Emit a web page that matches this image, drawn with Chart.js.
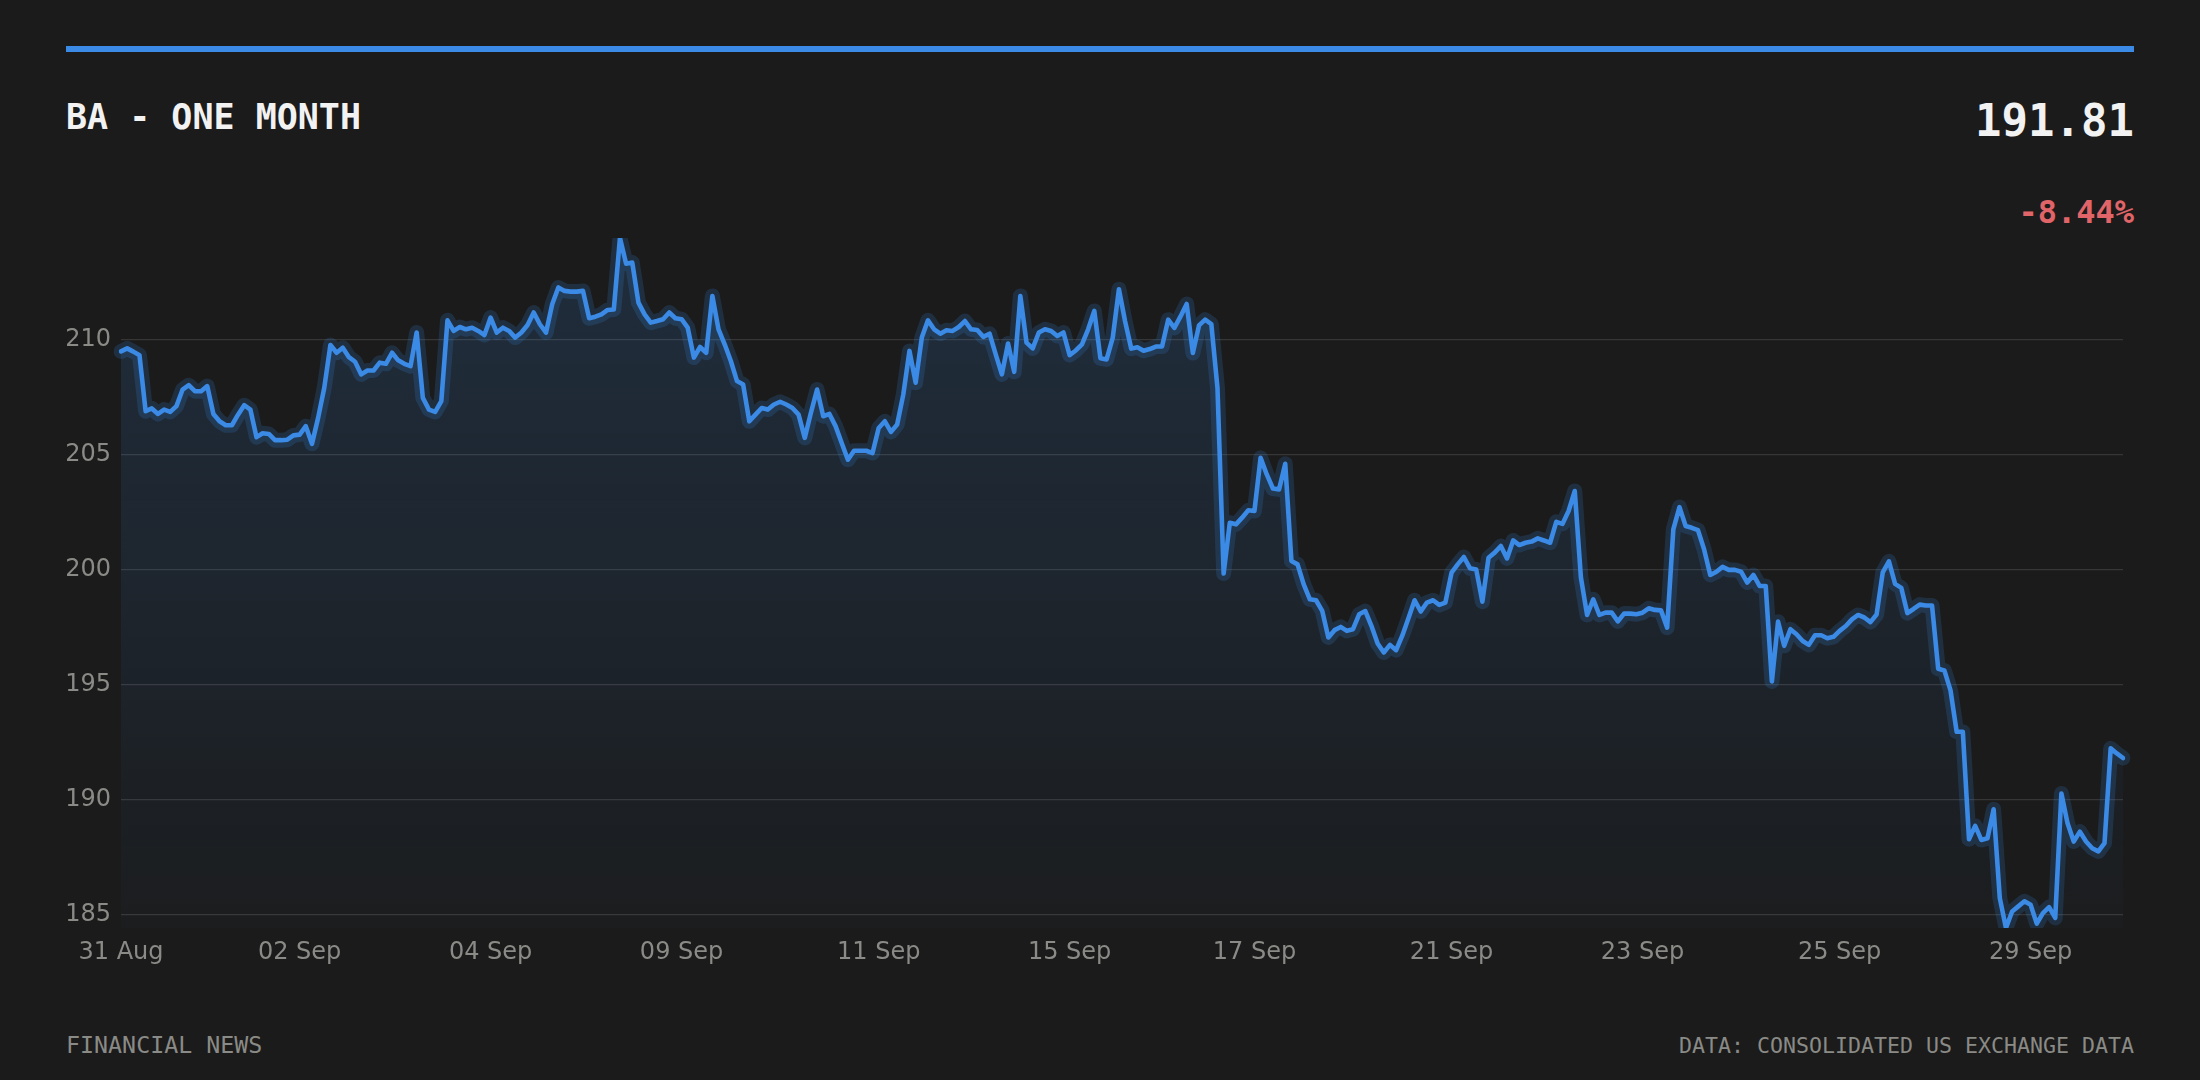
<!DOCTYPE html>
<html>
<head>
<meta charset="utf-8">
<script src="https://cdn.jsdelivr.net/npm/chart.js@4/dist/chart.umd.min.js"></script>
<style>
  html, body { margin: 0; padding: 0; background: #1b1b1b; width: 2200px; height: 1080px; overflow: hidden; }
  .bar { position: absolute; left: 66px; top: 46px; width: 2068px; height: 6px; background: #3a8ae6; }
  .mono { font-family: "DejaVu Sans Mono", monospace; position: absolute; white-space: nowrap; }
  #title { left: 66px; top: 100px; font-size: 35px; line-height: 35px; font-weight: bold; color: #f2f2f2; }
  #price { right: 66px; top: 99px; font-size: 44px; line-height: 44px; font-weight: bold; color: #f2f2f2; }
  #change { right: 66px; top: 196px; font-size: 32px; line-height: 32px; font-weight: bold; color: #e06468; }
  #srcLeft { left: 66px; top: 1033px; font-size: 23.3px; line-height: 23px; color: #8a8a86; }
  #srcRight { right: 66px; top: 1035px; font-size: 21.6px; line-height: 21px; color: #8a8a86; }
  #chartBox { position: absolute; left: 66px; top: 228px; width: 2068px; height: 772px; }
  #c { display: block; }
</style>
</head>
<body>
<div class="bar"></div>
<div class="mono" id="title"></div>
<div class="mono" id="price"></div>
<div class="mono" id="change"></div>
<div class="mono" id="srcLeft">FINANCIAL NEWS</div>
<div class="mono" id="srcRight">DATA: CONSOLIDATED US EXCHANGE DATA</div>
<div id="chartBox"><canvas id="c" width="2068" height="772"></canvas></div>
<script>
// ---- data ----
const chartTitle = 'BA - ONE MONTH';
const lastPrice = '191.81';
const changePct = '-8.44%';

// trading sessions and the index of the first point of each session
const sessionDays = ['31 Aug','01 Sep','02 Sep','03 Sep','04 Sep','08 Sep','09 Sep','10 Sep','11 Sep',
  '14 Sep','15 Sep','16 Sep','17 Sep','18 Sep','21 Sep','22 Sep','23 Sep','24 Sep','25 Sep',
  '28 Sep','29 Sep'];
const sessionStarts = [0,15,29,45,60,76,91,107,123,139,154,169,184,200,216,232,247,263,279,295,310];

const priceValues = [
  209.49,209.62,209.48,209.32,206.89,207.01,206.77,206.96,206.86,207.11,
  207.83,208.02,207.76,207.76,207.98,206.77,206.45,206.28,206.28,206.74,
  207.15,206.96,205.76,205.93,205.90,205.63,205.63,205.65,205.84,205.87,
  206.24,205.47,206.60,207.91,209.77,209.43,209.65,209.24,209.04,208.49,
  208.66,208.66,209.00,208.95,209.43,209.10,208.95,208.85,210.31,207.47,
  206.96,206.86,207.33,210.84,210.38,210.55,210.45,210.52,210.38,210.20,
  210.96,210.31,210.52,210.38,210.09,210.31,210.64,211.18,210.67,210.31,
  211.54,212.27,212.12,212.09,212.09,212.12,210.93,211.00,211.10,211.29,
  211.31,214.42,213.30,213.35,211.61,211.10,210.74,210.81,210.89,211.18,
  210.93,210.89,210.52,209.22,209.68,209.43,211.90,210.45,209.80,209.07,
  208.20,208.05,206.45,206.74,207.03,206.96,207.18,207.30,207.18,207.03,
  206.74,205.73,206.82,207.83,206.67,206.77,206.24,205.51,204.78,205.17,
  205.17,205.17,205.07,206.16,206.45,205.99,206.31,207.62,209.51,208.13,
  210.09,210.84,210.45,210.26,210.41,210.38,210.55,210.81,210.45,210.42,
  210.12,210.26,209.36,208.49,209.83,208.60,211.90,209.87,209.62,210.31,
  210.45,210.38,210.16,210.31,209.33,209.53,209.80,210.45,211.25,209.19,
  209.14,210.09,212.19,210.80,209.61,209.67,209.52,209.59,209.70,209.70,
  210.87,210.51,211.01,211.55,209.42,210.62,210.87,210.68,207.90,199.83,
  202.04,201.97,202.26,202.58,202.55,204.86,204.14,203.53,203.49,204.60,
  200.38,200.23,199.36,198.71,198.67,198.21,197.05,197.37,197.51,197.34,
  197.41,198.06,198.20,197.55,196.79,196.40,196.73,196.50,197.13,197.89,
  198.67,198.18,198.57,198.67,198.47,198.57,199.87,200.23,200.55,200.06,
  200.01,198.61,200.52,200.74,201.03,200.49,201.27,201.07,201.17,201.22,
  201.36,201.27,201.17,202.08,201.99,202.55,203.42,199.65,198.03,198.71,
  198.03,198.13,198.13,197.75,198.09,198.09,198.06,198.13,198.32,198.25,
  198.23,197.48,201.75,202.72,201.90,201.82,201.72,200.88,199.77,199.91,
  200.12,199.99,199.99,199.91,199.44,199.77,199.29,199.29,195.14,197.74,
  196.69,197.41,197.19,196.90,196.73,197.15,197.15,197.02,197.08,197.34,
  197.55,197.84,198.03,197.92,197.72,198.05,199.88,200.36,199.38,199.21,
  198.11,198.29,198.48,198.44,198.44,195.69,195.62,194.75,192.95,192.95,
  188.28,188.86,188.25,188.32,189.58,185.72,184.42,185.14,185.36,185.58,
  185.43,184.61,185.07,185.33,184.86,190.27,188.97,188.18,188.61,188.18,
  187.89,187.75,188.11,192.23,192.01,191.81
];
const yTickValues = [185, 190, 195, 200, 205, 210];
const labelEverySessions = 2;

// ---- build ----
document.getElementById('title').textContent = chartTitle;
document.getElementById('price').textContent = lastPrice;
document.getElementById('change').textContent = changePct;

const categories = priceValues.map((_, i) => {
  let d = 0;
  for (let k = 0; k < sessionStarts.length; k++) if (sessionStarts[k] <= i) d = k;
  return sessionDays[d];
});

const yMin = Math.min(...priceValues);
const yMax = Math.max(...priceValues);

function fillGradient(ctx) {
  const chart = ctx.chart;
  const area = chart.chartArea;
  if (!area) return 'rgba(58,138,230,0.1)';
  const g = chart.ctx.createLinearGradient(0, area.top, 0, area.bottom);
  g.addColorStop(0, 'rgba(58,138,230,0.17)');
  g.addColorStop(1, 'rgba(58,138,230,0.02)');
  return g;
}

new Chart(document.getElementById('c'), {
  type: 'line',
  data: {
    labels: categories,
    datasets: [
      {
        data: priceValues,
        borderColor: '#3a8ae6',
        borderWidth: 4.6,
        borderJoinStyle: 'round',
        borderCapStyle: 'round',
        pointRadius: 0,
        tension: 0,
        fill: false
      },
      {
        data: priceValues,
        borderColor: 'rgba(58,138,230,0.18)',
        borderWidth: 15,
        borderJoinStyle: 'round',
        borderCapStyle: 'round',
        pointRadius: 0,
        tension: 0,
        fill: 'start',
        backgroundColor: fillGradient
      }
    ]
  },
  options: {
    responsive: false,
    animation: false,
    devicePixelRatio: 1,
    layout: { padding: { top: 10, right: 11, bottom: 0, left: 0 } },
    plugins: { legend: { display: false }, tooltip: { enabled: false } },
    scales: {
      x: {
        offset: false,
        grid: { display: false, drawTicks: false },
        border: { display: false },
        afterFit: (s) => { s.height = 72; s.paddingLeft = 0; s.paddingRight = 0; },
        ticks: {
          autoSkip: false,
          maxRotation: 0,
          minRotation: 0,
          padding: 10,
          color: '#8a8a86',
          font: { family: 'DejaVu Sans', size: 24 },
          callback: function (val, idx) {
            const s = sessionStarts.indexOf(idx);
            return (s >= 0 && s % labelEverySessions === 0) ? this.getLabelForValue(val) : null;
          }
        }
      },
      y: {
        min: yMin,
        max: yMax,
        afterFit: (s) => { s.width = 55; s.paddingTop = 0; s.paddingBottom = 0; },
        afterBuildTicks: (s) => { s.ticks = yTickValues.map(v => ({ value: v })); },
        grid: { color: 'rgba(255,255,255,0.12)', lineWidth: 1.2, drawTicks: false },
        border: { display: false },
        ticks: {
          padding: 10,
          color: '#8a8a86',
          font: { family: 'DejaVu Sans', size: 24 }
        }
      }
    }
  }
});
</script>
</body>
</html>
